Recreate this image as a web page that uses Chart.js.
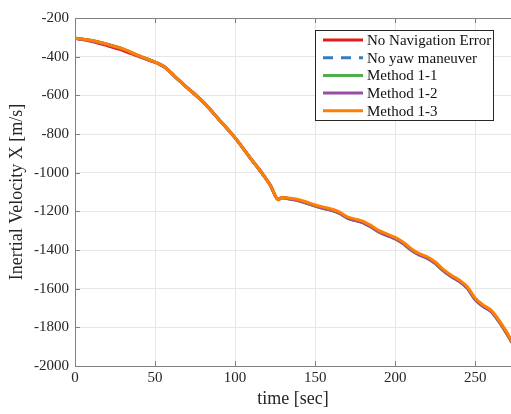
<!DOCTYPE html>
<html>
<head>
<meta charset="utf-8">
<script src="https://cdn.jsdelivr.net/npm/chart.js@4.4.1/dist/chart.umd.min.js"></script>
<style>
  html, body { margin: 0; padding: 0; background: #fff; overflow: hidden; }
  #wrap { width: 511px; height: 414px; }
</style>
</head>
<body>
<div id="wrap"><canvas id="velChart" width="511" height="414"></canvas></div>
<script>
// time samples [sec]
const times = [0, 10, 20, 30, 40, 50, 53, 56, 59, 62, 70, 80, 90, 100, 110, 117, 122, 127, 129, 134, 140, 145, 150, 155, 160, 165, 170, 175, 180, 185, 190, 195, 200, 205, 210, 215, 220, 225, 230, 235, 240, 245, 250, 255, 260, 265, 270, 273];

// series values [m/s]
const noNavError = [-305, -320, -343, -368, -400, -430, -441, -455, -476, -500, -560, -634, -726, -820, -930, -1005, -1065, -1140, -1128, -1135, -1145, -1158, -1172, -1184, -1194, -1209, -1233, -1246, -1258, -1280, -1306, -1324, -1341, -1366, -1399, -1424, -1441, -1468, -1506, -1536, -1561, -1596, -1656, -1691, -1718, -1771, -1836, -1878];
const noYaw      = [-305, -316, -336, -361, -396, -428, -439, -453, -475, -500, -560, -634, -726, -820, -930, -1005, -1065, -1140, -1128, -1134, -1144, -1157, -1171, -1183, -1193, -1208, -1232, -1245, -1257, -1279, -1305, -1323, -1340, -1365, -1398, -1423, -1440, -1467, -1505, -1535, -1560, -1595, -1655, -1690, -1717, -1770, -1835, -1877];
const method11   = [-305, -316, -336, -361, -396, -428, -439, -453, -475, -500, -560, -634, -726, -820, -930, -1005, -1065, -1140, -1128, -1137, -1146, -1159, -1173, -1185, -1195, -1210, -1235, -1248, -1260, -1282, -1308, -1326, -1343, -1368, -1401, -1426, -1443, -1470, -1508, -1538, -1563, -1598, -1658, -1693, -1720, -1773, -1838, -1880];
const method12   = [-305, -316, -336, -361, -396, -428, -439, -453, -475, -500, -560, -634, -726, -820, -930, -1005, -1065, -1140, -1128, -1136, -1145, -1158, -1172, -1184, -1194, -1209, -1234, -1247, -1259, -1281, -1307, -1325, -1342, -1367, -1400, -1425, -1442, -1469, -1507, -1537, -1562, -1597, -1657, -1692, -1719, -1772, -1837, -1879];
const method13   = [-305, -315, -335, -360, -395, -428, -439, -453, -475, -500, -560, -634, -726, -820, -930, -1005, -1065, -1140, -1128, -1132, -1140, -1153, -1167, -1178, -1188, -1203, -1228, -1240, -1252, -1274, -1300, -1318, -1335, -1360, -1393, -1418, -1435, -1462, -1500, -1530, -1555, -1590, -1650, -1685, -1712, -1765, -1830, -1875];

// axis ticks
const xTicks = [0, 50, 100, 150, 200, 250];
const yTicks = [-2000, -1800, -1600, -1400, -1200, -1000, -800, -600, -400, -200];

const seriesNames = ['No Navigation Error', 'No yaw maneuver', 'Method 1-1', 'Method 1-2', 'Method 1-3'];
const seriesColors = ['#e41a1c', '#377eb8', '#4daf4a', '#984ea3', '#ff7f00'];
const seriesValues = [noNavError, noYaw, method11, method12, method13];

const FONT = "'Liberation Serif', 'Times New Roman', serif";

function toPoints(vals) {
    return times.map((t, i) => ({ x: t, y: vals[i] }));
}

// box, inward ticks and legend like the matlab figure
const boxPlugin = {
    id: 'boxPlugin',
    afterDraw(chart) {
        const { ctx, chartArea: a, scales } = chart;
        ctx.save();
        ctx.strokeStyle = '#808080';
        ctx.lineWidth = 1;
        ctx.beginPath();
        ctx.moveTo(a.left, a.top + 0.5);
        ctx.lineTo(a.right, a.top + 0.5);
        // inward ticks
        xTicks.forEach(v => {
            const x = Math.round(scales.x.getPixelForValue(v)) + 0.5;
            ctx.moveTo(x, a.bottom); ctx.lineTo(x, a.bottom - 5);
            ctx.moveTo(x, a.top); ctx.lineTo(x, a.top + 5);
        });
        yTicks.forEach(v => {
            const y = Math.round(scales.y.getPixelForValue(v)) + 0.5;
            ctx.moveTo(a.left, y); ctx.lineTo(a.left + 5, y);
        });
        ctx.stroke();

        // legend
        const bx = 315.5, by = 30.5, bw = 178, bh = 90;
        ctx.fillStyle = '#fff';
        ctx.fillRect(bx, by, bw, bh);
        ctx.strokeStyle = '#262626';
        ctx.strokeRect(bx, by, bw, bh);
        ctx.font = '15px ' + FONT;
        ctx.textBaseline = 'middle';
        ctx.textAlign = 'left';
        seriesNames.forEach((name, i) => {
            const ds = chart.data.datasets[i];
            const y = 40 + i * 17.7;
            ctx.strokeStyle = ds.borderColor;
            ctx.lineWidth = 3;
            ctx.setLineDash(ds.borderDash || []);
            ctx.beginPath();
            ctx.moveTo(323, y); ctx.lineTo(363, y);
            ctx.stroke();
            ctx.setLineDash([]);
            ctx.fillStyle = '#111';
            ctx.fillText(name, 367, y + 1);
        });
        ctx.restore();
    }
};

new Chart(document.getElementById('velChart'), {
    type: 'line',
    data: {
        datasets: seriesNames.map((name, i) => ({
            label: name,
            data: toPoints(seriesValues[i]),
            borderColor: seriesColors[i],
            borderWidth: 3,
            borderDash: i === 1 ? [10, 8] : [],
            pointRadius: 0,
            cubicInterpolationMode: 'monotone',
            fill: false,
            order: seriesNames.length - i   // last series on top
        }))
    },
    options: {
        responsive: false,
        animation: false,
        layout: { padding: { top: 18, left: 0, right: 0, bottom: 0 } },
        plugins: {
            legend: { display: false },
            title: { display: false },
            tooltip: { enabled: false }
        },
        scales: {
            x: {
                type: 'linear',
                min: 0,
                max: 272.3,
                afterBuildTicks: s => { s.ticks = xTicks.map(v => ({ value: v })); },
                afterFit: s => { s.height = 48; },
                grid: { color: '#e6e6e6', drawTicks: false },
                border: { color: '#808080' },
                ticks: {
                    padding: 3,
                    color: '#262626',
                    font: { family: FONT, size: 15 },
                    callback: v => String(v)
                },
                title: {
                    display: true,
                    text: 'time [sec]',
                    color: '#262626',
                    font: { family: FONT, size: 18 },
                    padding: { top: 5 }
                }
            },
            y: {
                min: -2000,
                max: -200,
                afterBuildTicks: s => { s.ticks = yTicks.map(v => ({ value: v })); },
                afterFit: s => { s.width = 75; },
                grid: { color: '#e6e6e6', drawTicks: false },
                border: { color: '#808080' },
                ticks: {
                    padding: 6,
                    color: '#262626',
                    font: { family: FONT, size: 15 },
                    callback: v => String(v)
                },
                title: {
                    display: true,
                    text: 'Inertial Velocity X [m/s]',
                    color: '#262626',
                    font: { family: FONT, size: 18 },
                    padding: { top: 6, bottom: 0 }
                }
            }
        }
    },
    plugins: [boxPlugin]
});
</script>
</body>
</html>
